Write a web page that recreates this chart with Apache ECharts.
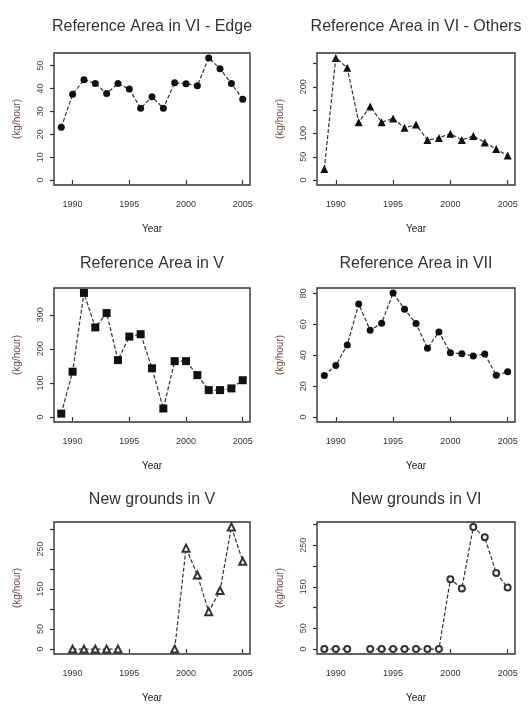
<!DOCTYPE html>
<html>
<head>
<meta charset="utf-8">
<script src="https://cdn.jsdelivr.net/npm/echarts@6/dist/echarts.min.js"></script>
<style>
  html, body { margin: 0; padding: 0; background: #fff; }
  #chart { width: 528px; height: 704px; }
</style>
</head>
<body>
<div id="chart"></div>
<script>
// Survey years shared by every panel
const years = [1989, 1990, 1991, 1992, 1993, 1994, 1995, 1996, 1997, 1998, 1999, 2000, 2001, 2002, 2003, 2004, 2005];
const yearTicks = [1990, 1995, 2000, 2005];

// Catch rates (kg/hour) per area; null = no survey that year
const refVIEdge   = [23, 37.4, 43.8, 42.1, 37.8, 42.1, 39.7, 31.3, 36.4, 31.3, 42.5, 42.0, 41.2, 53.3, 48.6, 42.1, 35.3];
const refVIOthers = [24, 262, 241, 124, 158, 124, 132, 112, 119, 86, 90.5, 99.6, 86, 94.7, 80.7, 66.7, 52.6];
const refV        = [10, 133, 364, 263, 305, 167, 236, 243, 143, 25, 164, 164, 123, 79, 79, 84, 108];
const refVII      = [26.9, 33.4, 46.6, 73.1, 56.2, 60.7, 80.3, 69.8, 60.5, 44.5, 55.1, 41.6, 41.0, 39.5, 40.8, 27.1, 29.3];
const newV        = [null, 0, 0, 0, 0, 0, null, null, null, null, 0, 252, 185, 93.5, 146, 305, 219];
const newVI       = [0, 0, 0, null, 0, 0, 0, 0, 0, 0, 0, 168, 146, 294, 269, 183, 148];

// Panel titles
const panelTitles = [
  'Reference Area in VI - Edge',
  'Reference Area in VI - Others',
  'Reference Area in V',
  'Reference Area in VII',
  'New grounds in V',
  'New grounds in VI'
];

// y-axis tick positions and the subset that carries a label
const yTicks = [
  [0, 10, 20, 30, 40, 50],
  [0, 50, 100, 150, 200, 250],
  [0, 100, 200, 300],
  [0, 20, 40, 60, 80],
  [0, 50, 100, 150, 200, 250, 300],
  [0, 50, 100, 150, 200, 250, 300]
];
const yTickLabels = [
  [0, 10, 20, 30, 40, 50],
  [0, 50, 100, 200],
  [0, 100, 200, 300],
  [0, 20, 40, 60, 80],
  [0, 50, 150, 250],
  [0, 50, 150, 250]
];

const seriesValues = [refVIEdge, refVIOthers, refV, refVII, newV, newVI];
const markers = [
  { symbol: 'circle', size: 7 },
  { symbol: 'triangle', size: 8 },
  { symbol: 'rect', size: 8 },
  { symbol: 'circle', size: 7 },
  { symbol: 'emptyTriangle', size: 7 },
  { symbol: 'emptyCircle', size: 6 }
];

// Plot-box geometry of the 3 x 2 layout
const colLeft = [54, 317];
const colWidth = [196, 198];
const rowTop = [53, 288, 522];
const rowHeight = [132, 134, 137];
const titleCenter = [27, 264, 500];

const FONT = 'Liberation Sans, Arial, Helvetica, sans-serif';
const INK = '#222';

// R-style axis extent: data range padded by 4% on each side
function padded(lo, hi) {
  const d = (hi - lo) * 0.04;
  return [lo - d, hi + d];
}
const xExtent = padded(years[0], years[years.length - 1]);

const grids = [], xAxes = [], yAxes = [], series = [], heads = [];

seriesValues.forEach((vals, i) => {
  const row = Math.floor(i / 2), col = i % 2;
  const left = colLeft[col], top = rowTop[row];
  const w = colWidth[col], h = rowHeight[row];

  grids.push({
    left: left, top: top, width: w, height: h,
    show: true, borderColor: '#333', borderWidth: 1.4, backgroundColor: 'transparent'
  });

  xAxes.push({
    type: 'value', gridIndex: i,
    min: xExtent[0], max: xExtent[1],
    name: 'Year', nameLocation: 'middle', nameGap: 39,
    nameTextStyle: { fontFamily: FONT, fontSize: 10, color: INK },
    axisLine: { show: false },
    splitLine: { show: false },
    axisTick: { show: true, inside: false, length: 4, customValues: yearTicks,
      lineStyle: { color: '#333', width: 1.2 } },
    axisLabel: { customValues: yearTicks, margin: 15, fontFamily: FONT, fontSize: 9, color: '#333',
      formatter: v => String(v) }
  });

  const nums = vals.filter(v => v !== null);
  const yExtent = padded(0, Math.max.apply(null, nums));
  yAxes.push({
    type: 'value', gridIndex: i,
    min: yExtent[0], max: yExtent[1],
    name: '(kg/hour)', nameLocation: 'middle', nameRotate: 90, nameGap: 32,
    nameTextStyle: { fontFamily: FONT, fontSize: 10, color: '#6a4a44' },
    axisLine: { show: false },
    splitLine: { show: false },
    axisTick: { show: true, inside: false, length: 4, customValues: yTicks[i],
      lineStyle: { color: '#333', width: 1.2 } },
    axisLabel: { customValues: yTickLabels[i], rotate: 90, margin: 9,
      fontFamily: FONT, fontSize: 9, color: '#444', formatter: v => String(v) }
  });

  const m = markers[i];
  const hollow = m.symbol.indexOf('empty') === 0;
  series.push({
    type: 'line', xAxisIndex: i, yAxisIndex: i,
    data: years.map((yr, k) => [yr, vals[k]]),
    connectNulls: false,
    symbol: m.symbol,
    symbolSize: m.size,
    showSymbol: true,
    lineStyle: { color: '#333', width: 1.2, type: [4, 2] },
    itemStyle: hollow ? { color: '#333', borderWidth: 1 } : { color: '#111' },
    emphasis: { disabled: true },
    animation: false
  });

  heads.push({
    type: 'text',
    x: left + w / 2, y: titleCenter[row],
    style: {
      text: panelTitles[i], align: 'center', verticalAlign: 'middle',
      font: '16px ' + FONT, fill: '#333'
    }
  });
});

const chart = echarts.init(document.getElementById('chart'), null, { renderer: 'canvas' });
chart.setOption({
  backgroundColor: '#fff',
  animation: false,
  graphic: heads,
  grid: grids,
  xAxis: xAxes,
  yAxis: yAxes,
  series: series
});
</script>
</body>
</html>
